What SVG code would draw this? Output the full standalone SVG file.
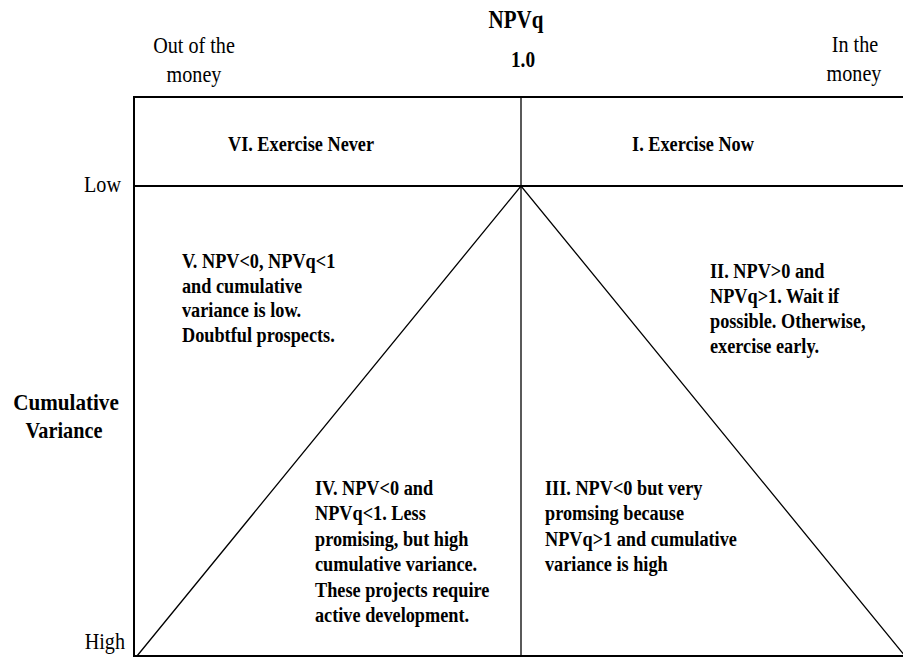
<svg xmlns="http://www.w3.org/2000/svg" width="903" height="658" viewBox="0 0 903 658">
<style>
  .b { font-weight: bold; font-size: 22px; }
  .r { font-size: 24px; }
  .frame { fill: none; stroke: #000; stroke-width: 2; }
  .thin { fill: none; stroke: #000; stroke-width: 1.3; }
</style>
<rect width="903" height="658" fill="#fff"/>

<g id="frame">
  <rect class="frame" x="134" y="97" width="774" height="559"/>
  <line class="frame" x1="134" y1="186" x2="908" y2="186"/>
</g>

<g id="connectors">
  <line class="thin" x1="521" y1="97" x2="521" y2="656"/>
  <polyline class="thin" points="137,656 521,186 905,656"/>
</g>

<g id="axis-top">
  <text font-family="Liberation Serif" class="b" transform="translate(516 28) scale(0.84 1)" text-anchor="middle" style="font-size:25px">NPVq</text>
  <text font-family="Liberation Serif" class="b" transform="translate(523 67) scale(0.84 1)" text-anchor="middle" style="font-size:23px">1.0</text>
  <text font-family="Liberation Serif" class="r" transform="translate(194 53) scale(0.84 1)" text-anchor="middle">Out of the</text>
  <text font-family="Liberation Serif" class="r" transform="translate(194 82) scale(0.84 1)" text-anchor="middle">money</text>
  <text font-family="Liberation Serif" class="r" transform="translate(855 52) scale(0.84 1)" text-anchor="middle">In the</text>
  <text font-family="Liberation Serif" class="r" transform="translate(854 81) scale(0.84 1)" text-anchor="middle">money</text>
</g>

<g id="axis-left">
  <text font-family="Liberation Serif" class="r" transform="translate(121 192) scale(0.84 1)" text-anchor="end">Low</text>
  <text font-family="Liberation Serif" class="r" transform="translate(125 649) scale(0.84 1)" text-anchor="end">High</text>
  <text font-family="Liberation Serif" class="b" transform="translate(66 410) scale(0.88 1)" text-anchor="middle" style="font-size:24px">Cumulative</text>
  <text font-family="Liberation Serif" class="b" transform="translate(64 438) scale(0.88 1)" text-anchor="middle" style="font-size:23px">Variance</text>
</g>

<g id="region-VI">
  <text font-family="Liberation Serif" class="b" transform="translate(301 151) scale(0.83 1)" text-anchor="middle">VI. Exercise Never</text>
</g>

<g id="region-I">
  <text font-family="Liberation Serif" class="b" transform="translate(693 151) scale(0.83 1)" text-anchor="middle">I. Exercise Now</text>
</g>

<g id="region-V">
  <text font-family="Liberation Serif" class="b" transform="translate(182 268) scale(0.83 1)">V. NPV&lt;0, NPVq&lt;1</text>
  <text font-family="Liberation Serif" class="b" transform="translate(182 293) scale(0.83 1)">and cumulative</text>
  <text font-family="Liberation Serif" class="b" transform="translate(182 317) scale(0.83 1)">variance is low.</text>
  <text font-family="Liberation Serif" class="b" transform="translate(182 342) scale(0.83 1)">Doubtful prospects.</text>
</g>

<g id="region-II">
  <text font-family="Liberation Serif" class="b" transform="translate(710 278) scale(0.83 1)">II. NPV&gt;0 and</text>
  <text font-family="Liberation Serif" class="b" transform="translate(710 303) scale(0.83 1)">NPVq&gt;1. Wait if</text>
  <text font-family="Liberation Serif" class="b" transform="translate(710 328) scale(0.83 1)">possible. Otherwise,</text>
  <text font-family="Liberation Serif" class="b" transform="translate(710 353) scale(0.83 1)">exercise early.</text>
</g>

<g id="region-IV">
  <text font-family="Liberation Serif" class="b" transform="translate(315 495) scale(0.83 1)">IV. NPV&lt;0 and</text>
  <text font-family="Liberation Serif" class="b" transform="translate(315 520) scale(0.83 1)">NPVq&lt;1. Less</text>
  <text font-family="Liberation Serif" class="b" transform="translate(315 546) scale(0.83 1)">promising, but high</text>
  <text font-family="Liberation Serif" class="b" transform="translate(315 571) scale(0.83 1)">cumulative variance.</text>
  <text font-family="Liberation Serif" class="b" transform="translate(315 597) scale(0.83 1)">These projects require</text>
  <text font-family="Liberation Serif" class="b" transform="translate(315 622) scale(0.83 1)">active development.</text>
</g>

<g id="region-III">
  <text font-family="Liberation Serif" class="b" transform="translate(545 495) scale(0.83 1)">III. NPV&lt;0 but very</text>
  <text font-family="Liberation Serif" class="b" transform="translate(545 520) scale(0.83 1)">promsing because</text>
  <text font-family="Liberation Serif" class="b" transform="translate(545 546) scale(0.83 1)">NPVq&gt;1 and cumulative</text>
  <text font-family="Liberation Serif" class="b" transform="translate(545 571) scale(0.83 1)">variance is high</text>
</g>
</svg>
